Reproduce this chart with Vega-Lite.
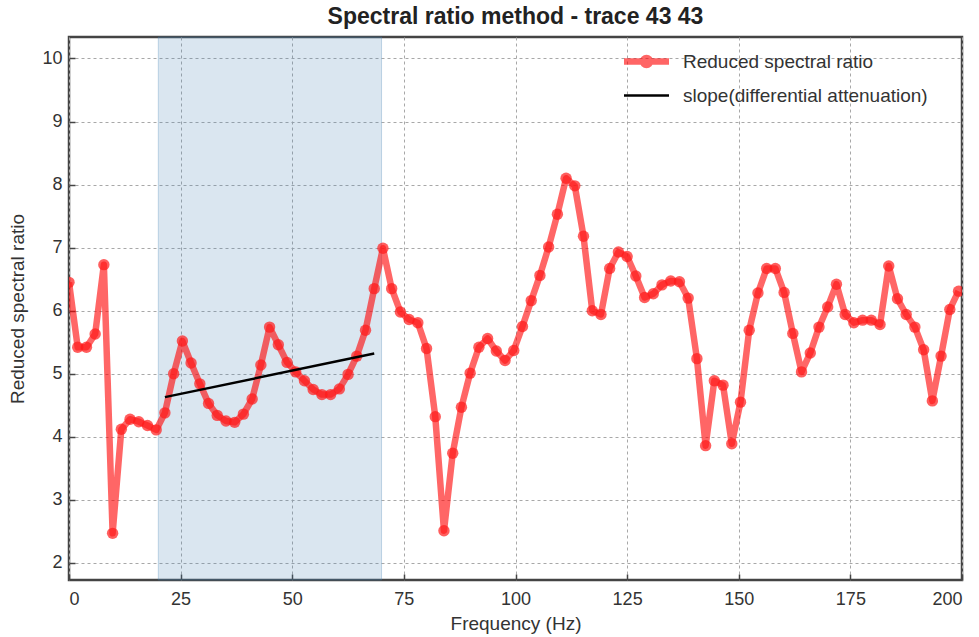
{
  "$schema": "https://vega.github.io/schema/vega-lite/v6.json",
  "width": 893,
  "height": 543,
  "autosize": {"type": "none"},
  "padding": {"left": 69, "top": 37, "right": 17, "bottom": 57},
  "background": "white",
  "title": {"text": "Spectral ratio method - trace 43 43", "font": "Liberation Sans", "fontSize": 23, "fontWeight": "bold", "color": "#222222", "offset": 8, "anchor": "middle"},
  "config": {
    "view": {"stroke": "#444444", "strokeWidth": 2.5},
    "axis": {"labelFont": "Liberation Sans", "labelFontSize": 18, "labelColor": "#333333", "titleFont": "Liberation Sans", "titleFontSize": 19, "titleFontWeight": "normal", "titleColor": "#333333", "grid": true, "gridDash": [3, 3], "gridColor": "#a8a8a8", "gridWidth": 1, "domain": false, "tickColor": "#444444", "tickWidth": 1.5, "tickSize": -6},
    "legend": {"title": null, "orient": "none", "legendX": 559, "legendY": 6, "symbolSize": 900, "labelFont": "Liberation Sans", "labelFontSize": 19, "labelColor": "#333333", "labelOffset": 18, "labelLimit": 0, "rowPadding": -3}
  },
  "datasets": {
    "ratio": [
      {"f": 0, "r": 6.45}, {"f": 1.95, "r": 5.42}, {"f": 3.91, "r": 5.42}, {"f": 5.86, "r": 5.63}, {"f": 7.81, "r": 6.73},
      {"f": 9.77, "r": 2.47}, {"f": 11.72, "r": 4.12}, {"f": 13.67, "r": 4.28}, {"f": 15.63, "r": 4.24}, {"f": 17.58, "r": 4.18},
      {"f": 19.53, "r": 4.11}, {"f": 21.48, "r": 4.38}, {"f": 23.44, "r": 5.0}, {"f": 25.39, "r": 5.52}, {"f": 27.34, "r": 5.17},
      {"f": 29.3, "r": 4.84}, {"f": 31.25, "r": 4.53}, {"f": 33.2, "r": 4.34}, {"f": 35.16, "r": 4.25}, {"f": 37.11, "r": 4.23},
      {"f": 39.06, "r": 4.36}, {"f": 41.02, "r": 4.6}, {"f": 42.97, "r": 5.14}, {"f": 44.92, "r": 5.74}, {"f": 46.88, "r": 5.46},
      {"f": 48.83, "r": 5.18}, {"f": 50.78, "r": 5.03}, {"f": 52.73, "r": 4.89}, {"f": 54.69, "r": 4.75}, {"f": 56.64, "r": 4.67},
      {"f": 58.59, "r": 4.67}, {"f": 60.55, "r": 4.76}, {"f": 62.5, "r": 4.99}, {"f": 64.45, "r": 5.28}, {"f": 66.41, "r": 5.69},
      {"f": 68.36, "r": 6.35}, {"f": 70.31, "r": 6.99}, {"f": 72.27, "r": 6.35}, {"f": 74.22, "r": 5.98}, {"f": 76.17, "r": 5.86},
      {"f": 78.13, "r": 5.81}, {"f": 80.08, "r": 5.4}, {"f": 82.03, "r": 4.32}, {"f": 83.98, "r": 2.51}, {"f": 85.94, "r": 3.74},
      {"f": 87.89, "r": 4.47}, {"f": 89.84, "r": 5.01}, {"f": 91.8, "r": 5.42}, {"f": 93.75, "r": 5.56}, {"f": 95.7, "r": 5.36},
      {"f": 97.66, "r": 5.21}, {"f": 99.61, "r": 5.37}, {"f": 101.56, "r": 5.75}, {"f": 103.52, "r": 6.16}, {"f": 105.47, "r": 6.56},
      {"f": 107.42, "r": 7.01}, {"f": 109.38, "r": 7.53}, {"f": 111.33, "r": 8.1}, {"f": 113.28, "r": 7.98}, {"f": 115.23, "r": 7.18},
      {"f": 117.19, "r": 6.0}, {"f": 119.14, "r": 5.94}, {"f": 121.09, "r": 6.67}, {"f": 123.05, "r": 6.93}, {"f": 125.0, "r": 6.86},
      {"f": 126.95, "r": 6.55}, {"f": 128.91, "r": 6.21}, {"f": 130.86, "r": 6.27}, {"f": 132.81, "r": 6.41}, {"f": 134.77, "r": 6.47},
      {"f": 136.72, "r": 6.46}, {"f": 138.67, "r": 6.2}, {"f": 140.63, "r": 5.24}, {"f": 142.58, "r": 3.86}, {"f": 144.53, "r": 4.89},
      {"f": 146.48, "r": 4.82}, {"f": 148.44, "r": 3.89}, {"f": 150.39, "r": 4.55}, {"f": 152.34, "r": 5.69}, {"f": 154.3, "r": 6.28},
      {"f": 156.25, "r": 6.67}, {"f": 158.2, "r": 6.67}, {"f": 160.16, "r": 6.29}, {"f": 162.11, "r": 5.64}, {"f": 164.06, "r": 5.03},
      {"f": 166.02, "r": 5.33}, {"f": 167.97, "r": 5.74}, {"f": 169.92, "r": 6.06}, {"f": 171.88, "r": 6.42}, {"f": 173.83, "r": 5.94},
      {"f": 175.78, "r": 5.81}, {"f": 177.73, "r": 5.85}, {"f": 179.69, "r": 5.85}, {"f": 181.64, "r": 5.78}, {"f": 183.59, "r": 6.71},
      {"f": 185.55, "r": 6.19}, {"f": 187.5, "r": 5.94}, {"f": 189.45, "r": 5.74}, {"f": 191.41, "r": 5.38}, {"f": 193.36, "r": 4.57},
      {"f": 195.31, "r": 5.28}, {"f": 197.27, "r": 6.02}, {"f": 199.22, "r": 6.31}
    ],
    "slope": [
      {"f": 21.48, "r": 4.63},
      {"f": 68.36, "r": 5.32}
    ],
    "band": [
      {"f1": 20, "f2": 70}
    ]
  },
  "layer": [
    {
      "data": {"name": "band"},
      "mark": {"type": "rect", "fill": "#4682b4", "fillOpacity": 0.2, "stroke": "#4682b4", "strokeOpacity": 0.3, "strokeWidth": 1},
      "encoding": {
        "x": {"field": "f1", "type": "quantitative", "scale": {"domain": [0, 200], "nice": false, "zero": false}, "axis": {"values": [0, 25, 50, 75, 100, 125, 150, 175, 200], "format": "d", "title": "Frequency (Hz)", "titlePadding": 6, "labelPadding": 16}},
        "x2": {"field": "f2"}
      }
    },
    {
      "data": {"name": "ratio"},
      "transform": [{"calculate": "'Reduced spectral ratio'", "as": "series"}],
      "mark": {"type": "line", "strokeJoin": "round", "clip": true},
      "encoding": {
        "x": {"field": "f", "type": "quantitative"},
        "y": {"field": "r", "type": "quantitative", "scale": {"domain": [1.73, 10.34], "nice": false, "zero": false}, "axis": {"values": [2, 3, 4, 5, 6, 7, 8, 9, 10], "format": "d", "title": "Reduced spectral ratio", "titlePadding": 14, "labelPadding": 13}},
        "color": {"field": "series", "type": "nominal", "scale": {"domain": ["Reduced spectral ratio", "slope(differential attenuation)"], "range": ["#ff0000", "#000000"]}},
        "strokeWidth": {"field": "series", "type": "nominal", "scale": {"domain": ["Reduced spectral ratio", "slope(differential attenuation)"], "range": [6.5, 2.5]}},
        "opacity": {"field": "series", "type": "nominal", "scale": {"domain": ["Reduced spectral ratio", "slope(differential attenuation)"], "range": [0.6, 1]}}
      }
    },
    {
      "data": {"name": "ratio"},
      "mark": {"type": "point", "filled": true, "shape": "circle", "color": "#ff1a1a", "opacity": 0.7, "size": 130, "clip": true},
      "encoding": {
        "x": {"field": "f", "type": "quantitative"},
        "y": {"field": "r", "type": "quantitative"}
      }
    },
    {
      "data": {"name": "ratio"},
      "transform": [{"calculate": "'Reduced spectral ratio'", "as": "series"}],
      "mark": {"type": "point", "filled": true, "color": "#ff1a1a", "opacity": 0.7, "size": 0, "clip": true},
      "encoding": {
        "x": {"field": "f", "type": "quantitative"},
        "y": {"field": "r", "type": "quantitative"},
        "shape": {"field": "series", "type": "nominal", "scale": {"domain": ["Reduced spectral ratio", "slope(differential attenuation)"], "range": ["M-1.5,0H1.5M0.24,0A0.24,0.24,0,1,1,-0.24,0A0.24,0.24,0,1,1,0.24,0Z", "M-1.5,0H1.5"]}}
      }
    },
    {
      "data": {"name": "slope"},
      "transform": [{"calculate": "'slope(differential attenuation)'", "as": "series"}],
      "mark": {"type": "line"},
      "encoding": {
        "x": {"field": "f", "type": "quantitative"},
        "y": {"field": "r", "type": "quantitative"},
        "color": {"field": "series", "type": "nominal"},
        "strokeWidth": {"field": "series", "type": "nominal"},
        "opacity": {"field": "series", "type": "nominal"}
      }
    }
  ]
}
